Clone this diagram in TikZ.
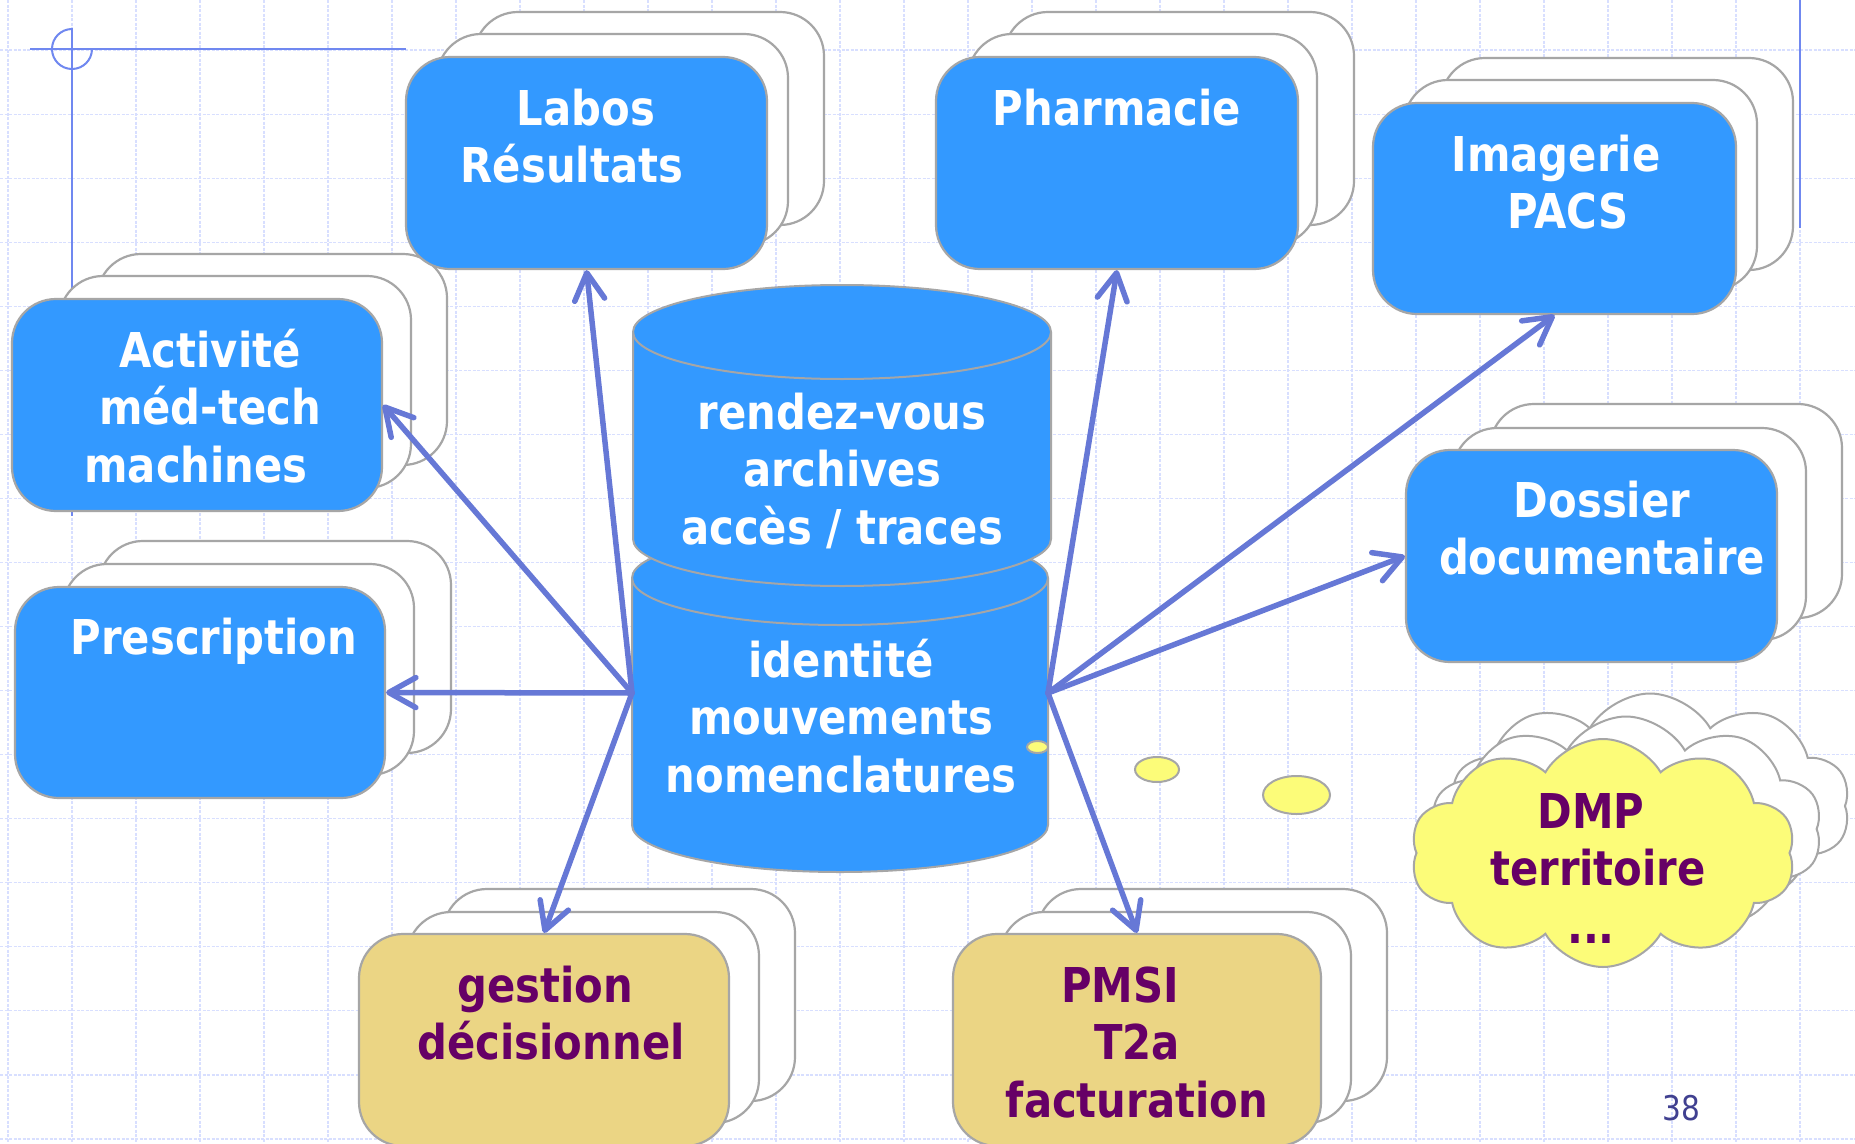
\documentclass[tikz,border=0pt]{standalone}
\usepackage{fontspec}
\newfontfamily\boxfont{DejaVu Sans}[FakeStretch=0.87]
\usetikzlibrary{arrows.meta,shapes.symbols}

\definecolor{boxblue}{RGB}{51,153,255}
\definecolor{boxgold}{RGB}{235,213,132}
\definecolor{cloudyellow}{RGB}{252,252,121}
\definecolor{textpurple}{RGB}{102,0,102}
\definecolor{edgegrey}{RGB}{166,166,166}
\definecolor{linkblue}{RGB}{102,120,214}
\definecolor{rulerblue}{RGB}{112,136,240}
\definecolor{gridblue}{RGB}{216,223,255}
\definecolor{numblue}{RGB}{64,64,144}

% uniform line strut: 57.4pt line pitch, baseline 43.4pt below the top
\newcommand\ls{\rule[-14pt]{0pt}{57.4pt}}

\begin{document}
\begin{tikzpicture}[x=1pt,y=-1pt,
  gridline/.style={gridblue, line width=1.1pt, dash pattern=on 3pt off 1.5pt},
  ruler/.style={rulerblue, line width=2pt},
  docback/.style={draw=edgegrey, fill=white, line width=2.2pt, rounded corners=44pt},
  docfront/.style={draw=edgegrey, fill=boxblue, line width=2.2pt, rounded corners=44pt, inner sep=0pt},
  docgold/.style={docfront, fill=boxgold},
  boxtext/.style={inner sep=0pt, anchor=north, align=center, text=white,
    font=\boxfont\bfseries\fontsize{48}{57.4}\selectfont},
  goldtext/.style={boxtext, text=textpurple},
  link/.style={linkblue, line width=5.5pt, line cap=round,
    -{Straight Barb[length=27pt,width=30pt,round]}},
  dbbody/.style={fill=boxblue, draw=edgegrey, line width=2pt},
  dbrim/.style={draw=edgegrey, line width=2pt},
  puffs/.style={cloud, cloud puffs=10, cloud puff arc=120, cloud ignores aspect,
    draw=edgegrey, line width=2pt, inner sep=0pt},
  bubble/.style={fill=cloudyellow, draw=edgegrey, line width=2pt}
]
% page
\fill[white] (0,0) rectangle (1855,1143);
\useasboundingbox (0,0) rectangle (1855,1143);

% squared paper
\foreach \i in {0,...,28} \draw[gridline] (8+64*\i,0) -- (8+64*\i,1143);
\foreach \j in {0,...,17} \draw[gridline] (0,50+64.06*\j) -- (1855,50+64.06*\j);

% margin rulers
\draw[ruler] (30,49) -- (406,49);
\draw[ruler] (72,28) -- (72,516);
\draw[ruler] (92,49) arc[start angle=0, end angle=270, radius=20];
\draw[ruler] (1800,0) -- (1800,228);

% Activite stack
\draw[docback] (97,254) rectangle (447,465);
\draw[docback] (59,276) rectangle (411,488);
\node[docfront, minimum width=370pt, minimum height=212pt] (activite) at (197,405) {};
% Prescription stack
\draw[docback] (99,541) rectangle (451,753);
\draw[docback] (63,564) rectangle (414,775);
\node[docfront, minimum width=370pt, minimum height=211pt] (prescription) at (200,692.5) {};
% gestion stack
\draw[docback] (443,889) rectangle (795,1101);
\draw[docback] (407,912) rectangle (759,1123);
\node[docgold, minimum width=370pt, minimum height=212pt] (gestion) at (544,1040) {};
% Labos stack
\draw[docback] (474,12) rectangle (824,225);
\draw[docback] (437,34) rectangle (788,245);
\node[docfront, minimum width=361pt, minimum height=212pt] (labos) at (586.5,163) {};
% Pharmacie stack
\draw[docback] (1004,12) rectangle (1354,225);
\draw[docback] (968,34) rectangle (1317,245);
\node[docfront, minimum width=362pt, minimum height=212pt] (pharmacie) at (1117,163) {};
% Imagerie stack
\draw[docback] (1441,58) rectangle (1793,270);
\draw[docback] (1404,80) rectangle (1757,290);
\node[docfront, minimum width=363pt, minimum height=211pt] (imagerie) at (1554.5,208.5) {};
% Dossier stack
\draw[docback] (1490,404) rectangle (1842,618);
\draw[docback] (1453,428) rectangle (1806,640);
\node[docfront, minimum width=371pt, minimum height=212pt] (dossier) at (1591.5,556) {};
% PMSI stack
\draw[docback] (1037,889) rectangle (1387,1101);
\draw[docback] (1000,912) rectangle (1351,1123);
\node[docgold, minimum width=368pt, minimum height=212pt] (pmsi) at (1137,1040) {};

% DMP clouds
\node[puffs, fill=white, minimum width=400pt, minimum height=225pt] (cloudback) at (1650,806) {};
\node[puffs, fill=white, minimum width=392pt, minimum height=225pt] (cloudmid) at (1626,829) {};
\node[puffs, fill=cloudyellow, minimum width=385pt, minimum height=228pt] (cloudfront) at (1603,853) {};

% database: lower drum
\path[dbbody] (632,578) -- (632,825)
  arc[start angle=180, end angle=0, x radius=208, y radius=47] -- (1048,578)
  arc[start angle=0, end angle=-180, x radius=208, y radius=47] -- cycle;
\draw[dbrim] (632,578) arc[start angle=180, end angle=0, x radius=208, y radius=47];
% database: upper drum
\path[dbbody] (633,332) -- (633,539)
  arc[start angle=180, end angle=0, x radius=209, y radius=47] -- (1051,332)
  arc[start angle=0, end angle=-180, x radius=209, y radius=47] -- cycle;
\draw[dbrim] (633,332) arc[start angle=180, end angle=0, x radius=209, y radius=47];

% thought bubbles
\draw[bubble] (1037.5,747) ellipse[x radius=10.5, y radius=6];
\draw[bubble] (1157,769.5) ellipse[x radius=22, y radius=12.5];
\draw[bubble] (1296.5,795) ellipse[x radius=33.5, y radius=19];

% texts
\node[boxtext] (labostext) at (586,81.6) {\ls Labos\\\ls Résultats\hspace*{28pt}};
\node[boxtext] (pharmatext) at (1117,81.6) {\ls Pharmacie};
\node[boxtext] (imagerietext) at (1556,127.6) {\ls Imagerie\\\ls\hspace*{24pt}PACS};
\node[boxtext] (activitetext) at (196,323.6) {\ls\hspace*{28pt}Activité\\\ls\hspace*{28pt}méd-tech\\\ls machines};
\node[boxtext] (prescriptiontext) at (214,610.6) {\ls Prescription};
\node[boxtext] (dossiertext) at (1602,473.6) {\ls Dossier\\\ls documentaire};
\node[boxtext] (dbuppertext) at (842,385.6) {\ls rendez-vous\\\ls archives\\\ls accès / traces};
\node[boxtext] (dblowertext) at (841,633.6) {\ls identité\\\ls mouvements\\\ls nomenclatures};
\node[goldtext] (gestiontext) at (551,958.6) {\ls gestion\hspace*{12pt}\\\ls décisionnel};
\node[goldtext] (pmsitext) at (1137,958.6) {\ls PMSI\hspace*{34pt}\\\ls T2a\\\ls facturation};
\node[goldtext] (dmptext) at (1591,784.6) {\ls DMP\\\ls\hspace*{14pt}territoire\\\ls ...};
\node[inner sep=0pt, anchor=base, text=numblue, font=\boxfont\fontsize{34}{40}\selectfont] (pagenum) at (1681,1120) {38};

% links from the database
\coordinate (dbleft) at (632,693);
\coordinate (dbright) at (1048,693);
\draw[link] (dbleft) -- (labos.south);
\draw[link] (dbleft) -- (activite.east);
\draw[link] (dbleft) -- (prescription.east);
\draw[link] (dbleft) -- (gestion.north);
\draw[link] (dbright) -- (pharmacie.south);
\draw[link] (dbright) -- (imagerie.south);
\draw[link] (dbright) -- (dossier.west);
\draw[link] (dbright) -- (pmsi.north);
\end{tikzpicture}
\end{document}
